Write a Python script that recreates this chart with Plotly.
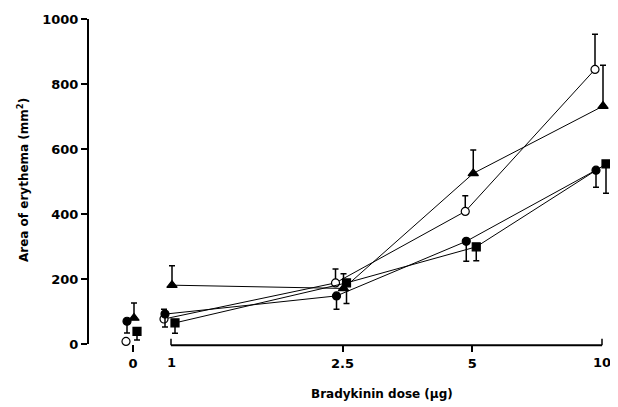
import numpy as np
import plotly.graph_objects as go

# ---- data ----
doses = [0, 1, 2.5, 5, 10]
dose_labels = ["0", "1", "2.5", "5", "10"]

open_circle = [8, 77, 188, 408, 845]
open_circle_err_up = [None, 30, 43, 48, 108]

filled_circle = [70, 92, 148, 316, 535]
filled_circle_err_down = [36, 40, 41, 61, 53]

triangle = [80, 181, 171, 525, 732]
triangle_err_up = [46, 60, 45, 72, 126]

square = [39, 65, 188, 299, 554]
square_err_down = [27, 32, 63, 43, 90]

y_ticks = [0, 200, 400, 600, 800, 1000]

x_title = "Bradykinin dose (µg)"
y_title = "Area of erythema (mm<sup>2</sup>)"

# ---- layout geometry (screen pixels; page body has an 8px margin) ----
OFF = 8
W, H = 618 - OFF, 407 - OFF
PLOT_L, PLOT_R, PLOT_T, PLOT_B = 88, 611, 19, 344   # screen coords
ML, MR = PLOT_L - OFF, (618 - OFF) - (PLOT_R - OFF)
MT, MB = PLOT_T - OFF, (407 - OFF) - (PLOT_B - OFF)
ML, MR, MT, MB = ML, W - (PLOT_R - OFF), MT, H - (PLOT_B - OFF)
PW = W - ML - MR
PH = H - MT - MB
PX_PER_DECADE = 431.0
X_ZERO, X_ONE, X_TEN = 133, 171, 602                 # screen coords

FONT = "DejaVu Sans"

series = [
    dict(y=open_circle, err=open_circle_err_up, up=True, symbol="circle-open",
         size=8, off=-7),
    dict(y=filled_circle, err=filled_circle_err_down, up=False, symbol="circle",
         size=8, off=-6),
    dict(y=triangle, err=triangle_err_up, up=True, symbol="triangle-up",
         size=9, off=1),
    dict(y=square, err=square_err_down, up=False, symbol="square",
         size=8, off=4),
]

fig = go.Figure()

for s in series:
    err = [e if e is not None else 0 for e in s["err"]]
    zeros = [0] * len(err)
    ey_plus = err if s["up"] else zeros
    ey_minus = zeros if s["up"] else err
    marker = dict(symbol=s["symbol"], size=s["size"], color="black",
                  line=dict(color="black", width=1.2))
    if s["symbol"] == "circle-open":
        marker = dict(symbol="circle", size=s["size"], color="white",
                      line=dict(color="black", width=1.2))
    show0 = s["err"][0] is not None
    fig.add_trace(go.Scatter(
        x=[doses[0] + s["off"] / 10.0], y=[s["y"][0]],
        xaxis="x", yaxis="y", mode="markers", marker=marker,
        error_y=dict(type="data", symmetric=False,
                     array=[ey_plus[0]], arrayminus=[ey_minus[0]],
                     color="black", thickness=1.5, width=3, visible=show0),
        cliponaxis=False, showlegend=False))
    fac = 10 ** (s["off"] / PX_PER_DECADE)
    fig.add_trace(go.Scatter(
        x=[d * fac for d in doses[1:]], y=s["y"][1:],
        xaxis="x2", yaxis="y", mode="lines+markers",
        line=dict(color="black", width=1),
        marker=marker,
        error_y=dict(type="data", symmetric=False,
                     array=ey_plus[1:], arrayminus=ey_minus[1:],
                     color="black", thickness=1.5, width=3),
        cliponaxis=False, showlegend=False))

tickfont = dict(family=FONT, size=13, color="black", weight="bold")
titlefont = dict(family=FONT, size=12, color="black", weight="bold")

x0_lo, x0_hi = (X_ZERO - 10 - PLOT_L) / PW, (X_ZERO + 10 - PLOT_L) / PW
x2_start = 150
x2_lo = (x2_start - PLOT_L) / PW
lo_log = -(X_ONE - x2_start) / PX_PER_DECADE
hi_log = 1 + (PLOT_R - X_TEN) / PX_PER_DECADE

fig.update_layout(
    width=W, height=H,
    margin=dict(l=ML, r=MR, t=MT, b=MB, autoexpand=False),
    paper_bgcolor="white", plot_bgcolor="white",
    font=dict(family=FONT, color="black"),
    xaxis=dict(domain=[x0_lo, x0_hi], range=[-1, 1], anchor="y",
               tickvals=[doses[0]], ticktext=[dose_labels[0]],
               ticks="outside", ticklen=7, tickwidth=1.5, tickcolor="black",
               showline=False, showgrid=False, zeroline=False,
               tickfont=tickfont, automargin=False),
    xaxis2=dict(domain=[x2_lo, 1], type="log", range=[lo_log, hi_log],
                anchor="y",
                tickvals=doses[2:4], ticktext=dose_labels[2:4],
                ticks="outside", ticklen=7, tickwidth=1.5, tickcolor="black",
                showline=False, showgrid=False, zeroline=False,
                tickfont=tickfont, automargin=False),
    yaxis=dict(range=[0, 1000], tickvals=y_ticks, anchor="free", position=0,
               ticks="outside", ticklen=6, tickwidth=1.5, tickcolor="black",
               showline=True, linewidth=2, linecolor="black",
               showgrid=False, zeroline=False, tickfont=tickfont,
               automargin=False),
)

# tick labels for the bracketed end ticks 1 and 10
for d, lab in [(doses[1], dose_labels[1]), (doses[4], dose_labels[4])]:
    fig.add_annotation(x=np.log10(d), y=0, xref="x2", yref="paper",
                       text=lab, showarrow=False, yanchor="top",
                       yshift=-9, font=tickfont)

# axis titles
fig.add_annotation(x=(382 - PLOT_L) / PW, y=0, xref="paper", yref="paper",
                   text=x_title, showarrow=False, yanchor="middle",
                   xanchor="center", yshift=-(394 - PLOT_B), font=titlefont)
fig.add_annotation(x=0, y=(PLOT_B - 180) / PH, xref="paper", yref="paper",
                   text=y_title, showarrow=False, textangle=-90,
                   xanchor="center", yanchor="middle",
                   xshift=23 - PLOT_L, font=titlefont)

# x axis line from 1 to 10 with upturned ends
ax_y = -0.004
fig.add_shape(type="line", xref="x2", yref="paper", x0=doses[1], x1=doses[4],
              y0=ax_y, y1=ax_y, line=dict(color="black", width=2))
for d in (doses[1], doses[4]):
    fig.add_shape(type="line", xref="x2", yref="paper", x0=d, x1=d,
                  y0=ax_y, y1=ax_y + 0.02, line=dict(color="black", width=1.5))

fig.write_html("out.html")
